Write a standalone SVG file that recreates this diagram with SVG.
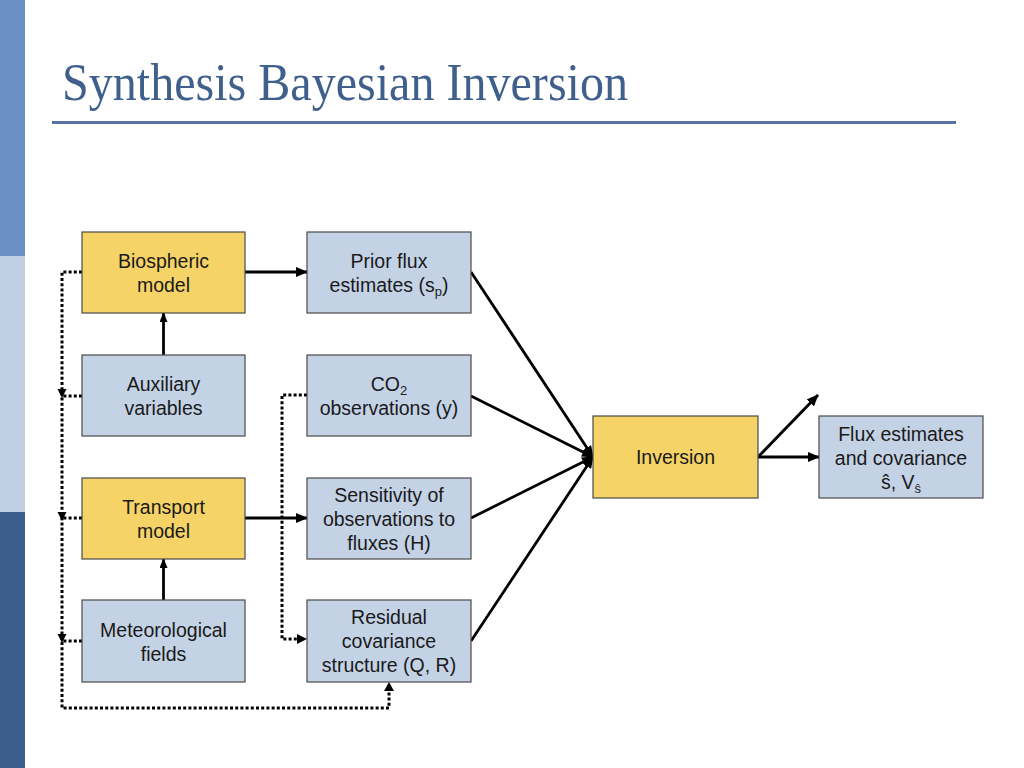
<svg xmlns="http://www.w3.org/2000/svg" width="1024" height="768" viewBox="0 0 1024 768">
<style>
.box{stroke:#4a4a4a;stroke-width:1.2}
.y{fill:#f5d366}
.b{fill:#c4d2e6}
.t{font-family:"Liberation Sans",Arial,sans-serif;font-size:19.5px;fill:#1a1a1a;text-anchor:middle}
.sub{font-size:13px}
.solid{stroke:#000;stroke-width:2.8;fill:none}
.dot{stroke:#000;stroke-width:3;fill:none;stroke-dasharray:3 2.2}
</style>
<defs>
<marker id="ah" markerUnits="userSpaceOnUse" markerWidth="12" markerHeight="10" refX="11" refY="5" orient="auto">
<path d="M0,0 L12,5 L0,10 z" fill="#000"/>
</marker>
<marker id="ahs" markerUnits="userSpaceOnUse" markerWidth="10" markerHeight="8" refX="9" refY="4" orient="auto">
<path d="M0,0 L10,4 L0,8 z" fill="#000"/>
</marker>
<path id="tri" d="M-4.5,-7 L4.5,-7 L0,2 z" fill="#000"/>
</defs>
<rect width="1024" height="768" fill="#fff"/>
<rect x="0" y="0" width="25" height="256" fill="#6b8ec3"/>
<rect x="0" y="256" width="25" height="256" fill="#c0cfe4"/>
<rect x="0" y="512" width="25" height="256" fill="#3b5e8e"/>
<text x="62" y="100" font-family="Liberation Serif,serif" font-size="52" fill="#3f5f8c" textLength="566" lengthAdjust="spacingAndGlyphs">Synthesis Bayesian Inversion</text>
<rect x="52" y="121" width="904" height="3" fill="#5574a3"/>

<g id="connectors">
<path class="solid" d="M245,272 H307" marker-end="url(#ah)"/>
<path class="solid" d="M245,518 H307" marker-end="url(#ah)"/>
<path class="solid" d="M163.5,355 V313" marker-end="url(#ahs)"/>
<path class="solid" d="M163.5,600 V559" marker-end="url(#ahs)"/>
<path class="solid" d="M471,272 L593,457" marker-end="url(#ah)"/>
<path class="solid" d="M471,396 L593,457" marker-end="url(#ah)"/>
<path class="solid" d="M471,518 L593,457" marker-end="url(#ah)"/>
<path class="solid" d="M471,641 L593,457" marker-end="url(#ah)"/>
<path class="solid" d="M758,457 H819" marker-end="url(#ah)"/>
<path class="solid" d="M758,457 L818,395" marker-end="url(#ah)"/>
<path class="dot" d="M82,272 H62 V708 H389 V690"/>
<path d="M384,691 L394,691 L389,682 z" fill="#000"/>
<path class="dot" d="M82,396 H62"/>
<path class="dot" d="M82,518 H62"/>
<path class="dot" d="M82,641 H62"/>
<use href="#tri" x="62" y="396"/>
<use href="#tri" x="62" y="519"/>
<use href="#tri" x="62" y="641"/>
<path class="dot" d="M307,395 H282 V639 H298"/>
<path d="M297,634 L307,639 L297,644 z" fill="#000"/>
</g>

<g id="biospheric">
<rect class="box y" x="82" y="232" width="163" height="81"/>
<text class="t" x="163.5" y="268">Biospheric</text>
<text class="t" x="163.5" y="292">model</text>
</g>
<g id="auxiliary">
<rect class="box b" x="82" y="355" width="163" height="81"/>
<text class="t" x="163.5" y="391">Auxiliary</text>
<text class="t" x="163.5" y="415">variables</text>
</g>
<g id="transport">
<rect class="box y" x="82" y="478" width="163" height="81"/>
<text class="t" x="163.5" y="514">Transport</text>
<text class="t" x="163.5" y="538">model</text>
</g>
<g id="meteorological">
<rect class="box b" x="82" y="600" width="163" height="82"/>
<text class="t" x="163.5" y="637">Meteorological</text>
<text class="t" x="163.5" y="661">fields</text>
</g>
<g id="prior">
<rect class="box b" x="307" y="232" width="164" height="81"/>
<text class="t" x="389" y="268">Prior flux</text>
<text class="t" x="389" y="292">estimates (s<tspan class="sub" dy="4">p</tspan><tspan dy="-4">)</tspan></text>
</g>
<g id="co2">
<rect class="box b" x="307" y="355" width="164" height="81"/>
<text class="t" x="389" y="391">CO<tspan class="sub" dy="4">2</tspan></text>
<text class="t" x="389" y="415">observations (y)</text>
</g>
<g id="sensitivity">
<rect class="box b" x="307" y="478" width="164" height="81"/>
<text class="t" x="389" y="502">Sensitivity of</text>
<text class="t" x="389" y="526">observations to</text>
<text class="t" x="389" y="550">fluxes (H)</text>
</g>
<g id="residual">
<rect class="box b" x="307" y="600" width="164" height="82"/>
<text class="t" x="389" y="624">Residual</text>
<text class="t" x="389" y="648">covariance</text>
<text class="t" x="389" y="672">structure (Q, R)</text>
</g>
<g id="inversion">
<rect class="box y" x="593" y="416" width="165" height="82"/>
<text class="t" x="675.5" y="464">Inversion</text>
</g>
<g id="flux">
<rect class="box b" x="819" y="416" width="164" height="82"/>
<text class="t" x="901" y="441">Flux estimates</text>
<text class="t" x="901" y="465">and covariance</text>
<text class="t" x="901" y="489">ŝ, V<tspan class="sub" dy="4">ŝ</tspan></text>
</g>
</svg>
